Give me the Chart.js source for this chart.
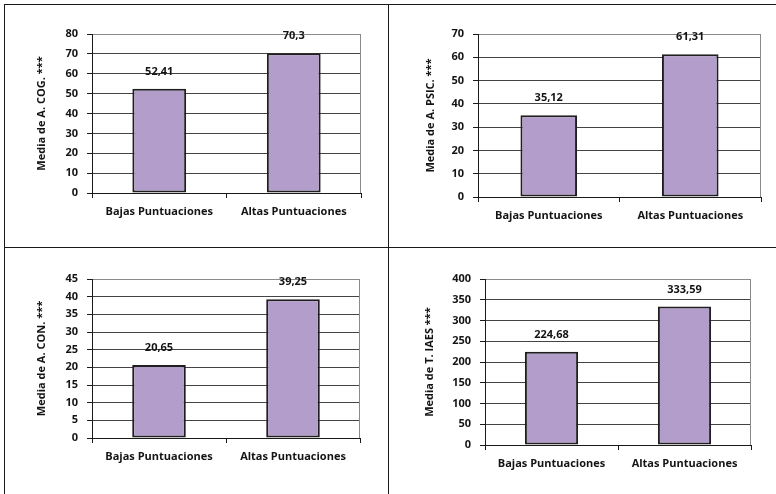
<!DOCTYPE html>
<html>
<head>
<meta charset="utf-8">
<script src="https://cdn.jsdelivr.net/npm/chart.js@4.4.0/dist/chart.umd.min.js"></script>
<style>
  body { margin: 0; background: #fff; }
  #wrap { position: relative; width: 776px; height: 494px; overflow: hidden; }
  .line { position: absolute; background: #1a1a1a; }
  canvas { position: absolute; }
</style>
</head>
<body>
<div id="wrap">
  <div class="line" style="left:4px;top:4px;width:772px;height:1px;"></div>
  <div class="line" style="left:4px;top:4px;width:1px;height:490px;"></div>
  <div class="line" style="left:388px;top:4px;width:1px;height:490px;"></div>
  <div class="line" style="left:4px;top:247px;width:772px;height:1px;"></div>
  <canvas id="c1" style="left:5px;top:5px;"></canvas>
  <canvas id="c2" style="left:390px;top:5px;"></canvas>
  <canvas id="c3" style="left:5px;top:249px;"></canvas>
  <canvas id="c4" style="left:390px;top:249px;"></canvas>
</div>
<script>
var categories = ["Bajas Puntuaciones", "Altas Puntuaciones"];

var cogValues = [52.41, 70.3];
var psicValues = [35.12, 61.31];
var conValues = [20.65, 39.25];
var iaesValues = [224.68, 333.59];

var cogTitle = "Media de A. COG. ***";
var psicTitle = "Media de A. PSIC. ***";
var conTitle = "Media de A. CON. ***";
var iaesTitle = "Media de T. IAES ***";

var FONT = "'Open Sans', sans-serif";

var valueLabels = {
  id: "valueLabels",
  afterDatasetsDraw: function (chart) {
    var ctx = chart.ctx;
    var meta = chart.getDatasetMeta(0);
    var data = chart.data.datasets[0].data;
    ctx.save();
    ctx.font = "bold 11px " + FONT;
    ctx.fillStyle = "#141414";
    ctx.textAlign = "center";
    ctx.textBaseline = "middle";
    meta.data.forEach(function (bar, i) {
      ctx.fillText(String(data[i]).replace(".", ","), bar.x, bar.y - 17);
    });
    ctx.restore();
  }
};

// grey frame on the right side of the plot area
var rightBorder = {
  id: "rightBorder",
  beforeDatasetsDraw: function (chart) {
    var a = chart.chartArea;
    var ctx = chart.ctx;
    ctx.save();
    ctx.strokeStyle = "#8a8a8a";
    ctx.lineWidth = 1;
    ctx.beginPath();
    ctx.moveTo(a.right - 0.5, a.top);
    ctx.lineTo(a.right - 0.5, a.bottom);
    ctx.stroke();
    ctx.restore();
  }
};

function makeChart(id, w, h, values, title, max, step, box) {
  var canvas = document.getElementById(id);
  canvas.width = w;
  canvas.height = h;
  canvas.style.width = w + "px";
  canvas.style.height = h + "px";

  return new Chart(canvas.getContext("2d"), {
    type: "bar",
    data: {
      labels: categories,
      datasets: [
        {
          data: values,
          backgroundColor: "#b39dcb",
          borderColor: "#1f1f1f",
          borderWidth: 2,
          borderSkipped: false,
          categoryPercentage: 1,
          barPercentage: 0.4
        }
      ]
    },
    options: {
      responsive: false,
      animation: false,
      devicePixelRatio: 1,
      layout: { padding: { left: box.padLeft, top: box.top, right: w - box.right, bottom: 0 } },
      plugins: {
        legend: { display: false },
        tooltip: { enabled: false }
      },
      scales: {
        x: {
          afterFit: function (scale) { scale.height = h - box.bottom; },
          grid: {
            display: true,
            drawOnChartArea: false,
            offset: true,
            tickLength: 5,
            color: "#1a1a1a"
          },
          border: { display: true, color: "#1a1a1a", width: 1 },
          ticks: {
            color: "#141414",
            padding: 7,
            maxRotation: 0,
            font: { family: FONT, size: 11, weight: "bold" }
          }
        },
        y: {
          min: 0,
          max: max,
          afterFit: function (scale) { scale.width = box.left - box.padLeft; },
          grid: {
            color: function (c) {
              return c.tick && c.tick.value === max ? "#8a8a8a" : "#444444";
            },
            tickColor: "#1a1a1a",
            tickLength: 5
          },
          border: { display: true, color: "#1a1a1a", width: 1 },
          ticks: {
            stepSize: step,
            color: "#141414",
            padding: 9,
            font: { family: FONT, size: 11, weight: "bold" }
          },
          title: {
            display: true,
            text: title,
            color: "#141414",
            padding: { top: 0, bottom: 0 },
            font: { family: FONT, size: 11, weight: "bold" }
          }
        }
      }
    },
    plugins: [rightBorder, valueLabels]
  });
}

makeChart("c1", 383, 242, cogValues, cogTitle, 80, 10, { padLeft: 30, left: 87, right: 356, top: 29, bottom: 188 });
makeChart("c2", 386, 242, psicValues, psicTitle, 70, 10, { padLeft: 34, left: 88, right: 371, top: 29, bottom: 192 });
makeChart("c3", 383, 245, conValues, conTitle, 45, 5, { padLeft: 30, left: 87, right: 355, top: 30, bottom: 189 });
makeChart("c4", 386, 245, iaesValues, iaesTitle, 400, 50, { padLeft: 33, left: 95, right: 361, top: 30, bottom: 196 });
</script>
</body>
</html>
